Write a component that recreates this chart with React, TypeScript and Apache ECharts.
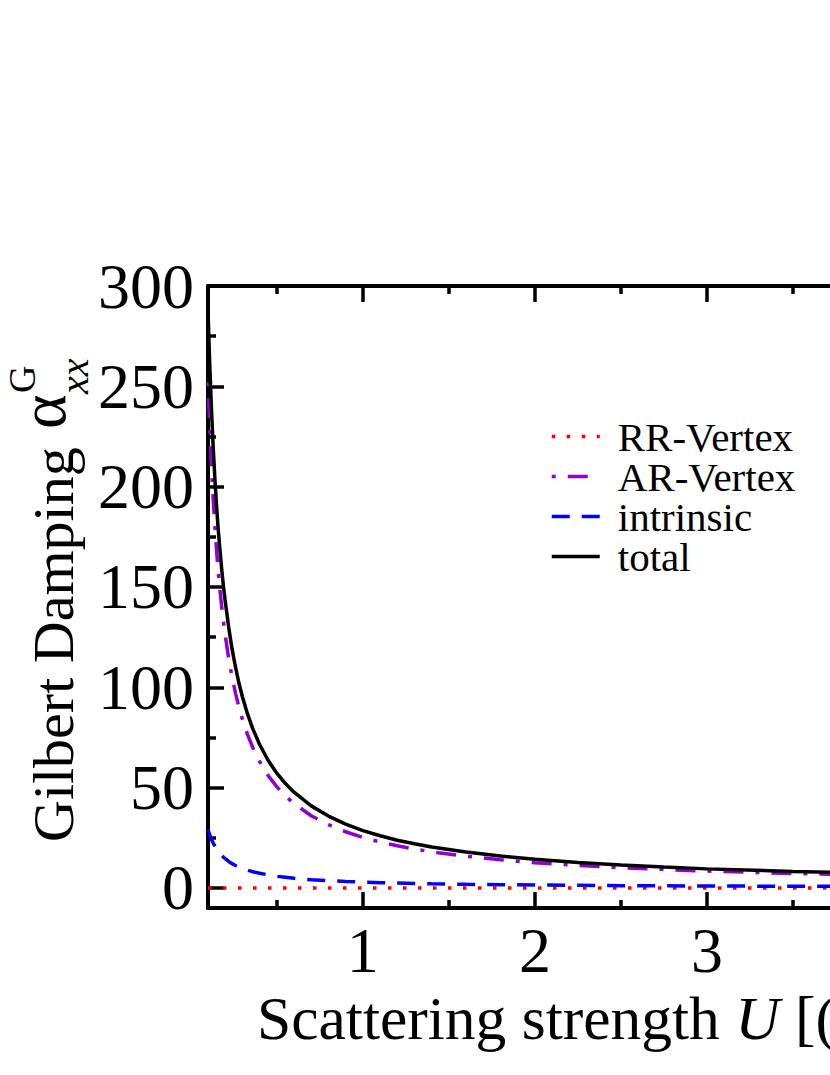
import React, { useEffect, useRef } from "react";
import * as echarts from "echarts";

const U_VALUES = [
  0.1, 0.11, 0.12, 0.13, 0.14, 0.15, 0.16, 0.17, 0.18, 0.19, 0.2,
  0.22, 0.24, 0.26, 0.28, 0.3,
  0.33, 0.36, 0.4, 0.45, 0.5, 0.55, 0.6,
  0.7, 0.8, 0.9, 1.0,
  1.1, 1.2, 1.3, 1.4,
  1.6, 1.8, 2.0,
  2.25, 2.5, 2.75, 3.0,
  3.5, 4.0, 4.5, 5.0,
];
const TOTAL = [
  288, 261, 239, 220, 204, 190, 178, 168, 158.5, 150, 143,
  130, 119, 110, 102, 95.3,
  86.6, 79.4, 71.5, 63.5, 57.2, 52, 47.7,
  40.9, 35.8, 31.8, 28.6,
  26, 23.8, 22, 20.4,
  17.9, 15.9, 14.3,
  12.7, 11.4, 10.4, 9.5,
  8.2, 7.2, 6.4, 5.7,
];
const AR_VERTEX = [
  252, 229, 210, 194, 180, 168, 157, 148, 140, 132.5, 126,
  114.5, 105, 97, 90, 84,
  76.4, 70, 63, 56, 50.4, 45.8, 42,
  36, 31.5, 28, 25.2,
  22.9, 21, 19.4, 18,
  15.8, 14, 12.6,
  11.2, 10.1, 9.2, 8.4,
  7.2, 6.3, 5.6, 5.0,
];
const INTRINSIC = [
  29, 26.5, 24.3, 22.4, 20.8, 19.4, 18.2, 17.1, 16.2, 15.3, 14.6,
  13.2, 12.1, 11.2, 10.4, 9.7,
  8.8, 8.1, 7.3, 6.5, 5.8, 5.3, 4.8,
  4.1, 3.6, 3.2, 2.9,
  2.6, 2.4, 2.2, 2.05,
  1.8, 1.6, 1.45,
  1.3, 1.15, 1.05, 0.95,
  0.85, 0.75, 0.65, 0.6,
];
const RR_VERTEX = [
  0, 0, 0, 0, 0, 0, 0, 0, 0, 0, 0,
  0, 0, 0, 0, 0,
  0, 0, 0, 0, 0, 0, 0,
  0, 0, 0, 0,
  0, 0, 0, 0,
  0, 0, 0,
  0, 0, 0, 0,
  0, 0, 0, 0,
];

const Y_MAJOR = [0, 50, 100, 150, 200, 250, 300];
const Y_MINOR = [25, 75, 125, 175, 225, 275];
const X_MAJOR = [1, 2, 3, 4, 5];
const X_MINOR = [0.5, 1.5, 2.5, 3.5, 4.5];
const X_LABELS = [1, 2, 3];
const SERIES_NAMES = ["RR-Vertex", "AR-Vertex", "intrinsic", "total"];

const FONT = "'Liberation Serif', 'Times New Roman', Times, serif";

const X_MIN = 0.1;
const X_MAX = 5;
const Y_MIN = -10;
const Y_MAX = 300;

function pairs(ys: number[]) {
  return U_VALUES.map((u, i) => [u, ys[i]]);
}

function xAxisDef(position: string, ticks: number[], len: number, showLine: boolean, labels: number[] | null) {
  return {
    type: "value",
    position,
    min: X_MIN,
    max: X_MAX,
    axisLine: { show: showLine, onZero: false, lineStyle: { color: "#000", width: 4 } },
    axisTick: { show: true, inside: true, length: len, customValues: ticks, lineStyle: { color: "#000", width: 3.5 } },
    axisLabel: labels
      ? { show: true, customValues: labels, fontSize: 64, fontFamily: FONT, color: "#000", margin: 10 }
      : { show: false },
    splitLine: { show: false },
  };
}

function yAxisDef(position: string, ticks: number[], len: number, showLine: boolean, labels: number[] | null) {
  return {
    type: "value",
    position,
    min: Y_MIN,
    max: Y_MAX,
    axisLine: { show: showLine, onZero: false, lineStyle: { color: "#000", width: 4 } },
    axisTick: { show: true, inside: true, length: len, customValues: ticks, lineStyle: { color: "#000", width: 3.5 } },
    axisLabel: labels
      ? { show: true, customValues: labels, fontSize: 64, fontFamily: FONT, color: "#000", margin: 14 }
      : { show: false },
    splitLine: { show: false },
  };
}

export default function App() {
  const ref = useRef<HTMLDivElement>(null);

  useEffect(() => {
    document.body.style.margin = "0";
    document.body.style.overflow = "hidden";
    const chart = echarts.init(ref.current as HTMLDivElement, null, { renderer: "svg" });

    const rot = Math.PI / 2;
    const option: any = {
      animation: false,
      backgroundColor: "#fff",
      grid: {
        left: 208,
        top: 286,
        width: 843,
        height: 622,
        containLabel: false,
        outerBoundsMode: "none",
      },
      xAxis: [
        xAxisDef("bottom", X_MAJOR, 16, true, X_LABELS),
        xAxisDef("bottom", X_MINOR, 8, false, null),
        xAxisDef("top", X_MAJOR, 16, true, null),
        xAxisDef("top", X_MINOR, 8, false, null),
      ],
      yAxis: [
        yAxisDef("left", Y_MAJOR, 16, true, Y_MAJOR),
        yAxisDef("left", Y_MINOR, 8, false, null),
        yAxisDef("right", Y_MAJOR, 16, true, null),
        yAxisDef("right", Y_MINOR, 8, false, null),
      ],
      legend: {
        show: true,
        orient: "vertical",
        left: 550,
        top: 416,
        padding: 0,
        itemGap: -1,
        itemWidth: 48,
        itemHeight: 14,
        selectedMode: false,
        data: SERIES_NAMES,
        itemStyle: { opacity: 0 },
        lineStyle: { width: 3.5 },
        textStyle: { fontSize: 41, fontFamily: FONT, color: "#000", padding: [0, 0, 0, 13] },
      },
      series: [
        {
          name: SERIES_NAMES[0],
          type: "line",
          data: pairs(RR_VERTEX),
          symbol: "none",
          lineStyle: { color: "#ff0000", width: 3.5, type: [3.5, 11.5], cap: "butt" },
          itemStyle: { color: "#ff0000" },
        },
        {
          name: SERIES_NAMES[1],
          type: "line",
          data: pairs(AR_VERTEX),
          symbol: "none",
          lineStyle: { color: "#9400d3", width: 3.5, type: [4, 12, 20, 12], cap: "butt" },
          itemStyle: { color: "#9400d3" },
        },
        {
          name: SERIES_NAMES[2],
          type: "line",
          data: pairs(INTRINSIC),
          symbol: "none",
          lineStyle: { color: "#0000ff", width: 3.5, type: [18, 12], cap: "butt" },
          itemStyle: { color: "#0000ff" },
        },
        {
          name: SERIES_NAMES[3],
          type: "line",
          data: pairs(TOTAL),
          symbol: "none",
          lineStyle: { color: "#000000", width: 3.5, type: "solid" },
          itemStyle: { color: "#000000" },
        },
      ],
      graphic: [
        {
          type: "text",
          x: 257,
          y: 1018,
          style: {
            text: "Scattering strength {i|U} [(eV)²]",
            fontSize: 61.5,
            fontFamily: FONT,
            fill: "#000",
            align: "left",
            verticalAlign: "middle",
            rich: { i: { fontStyle: "italic", fontSize: 61.5, fontFamily: FONT, fill: "#000" } },
          },
        },
        {
          type: "text",
          x: 53.5,
          y: 842,
          rotation: rot,
          style: { text: "Gilbert Damping", fontSize: 58, fontFamily: FONT, fill: "#000", align: "left", verticalAlign: "middle" },
        },
        {
          type: "text",
          x: 42,
          y: 429,
          rotation: rot,
          style: { text: "α", fontSize: 66, fontFamily: FONT, fill: "#000", align: "left", verticalAlign: "middle" },
        },
        {
          type: "text",
          x: 22,
          y: 393,
          rotation: rot,
          style: { text: "G", fontSize: 38, fontFamily: FONT, fill: "#000", align: "left", verticalAlign: "middle" },
        },
        {
          type: "text",
          x: 74.5,
          y: 394,
          rotation: rot,
          style: { text: "xx", fontSize: 40, fontStyle: "italic", fontFamily: FONT, fill: "#000", align: "left", verticalAlign: "middle" },
        },
      ],
    };

    chart.setOption(option);
    return () => chart.dispose();
  }, []);

  return <div ref={ref} style={{ width: 830, height: 1075 }} />;
}
